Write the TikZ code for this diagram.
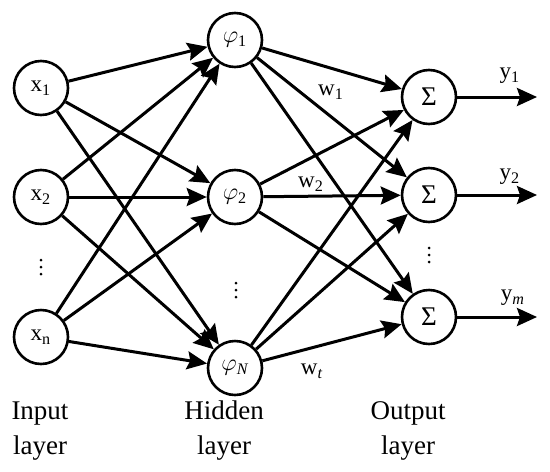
\documentclass[tikz,border=0pt]{standalone}
\usepackage{fontspec}
\setmainfont{Liberation Serif}
\usepackage{tikz}
\usetikzlibrary{arrows.meta, positioning}

\tikzset{
  neuron/.style={circle, draw, line width=1.3pt, minimum size=27pt, inner sep=0pt, font=\fontsize{11.5}{13}\selectfont},
  link/.style={line width=1.5pt, -{Stealth[length=10pt, width=9pt, inset=1.5pt]}},
  wlabel/.style={font=\fontsize{11.5}{13}\selectfont},
  layername/.style={font=\fontsize{13.5}{17.5}\selectfont, align=center},
  dotmark/.style={fill=black}
}

\begin{document}
\begin{tikzpicture}[x=0.5pt, y=-0.5pt]
  \useasboundingbox (0,0) rectangle (550,471);
  % input layer
  \node[neuron] (x1) at (41,88) {x\textsubscript{1}};
  \node[neuron] (x2) at (41,197) {x\textsubscript{2}};
  \node[neuron] (xn) at (41,337) {x\textsubscript{n}};
  \foreach \d in {260,267,274} \fill[dotmark] (41,\d) circle (1.5);
  % hidden layer
  \node[neuron] (h1) at (235,40) {$\varphi$\textsubscript{1}};
  \node[neuron] (h2) at (235,197) {$\varphi$\textsubscript{2}};
  \node[neuron] (hN) at (235,368) {$\varphi$\textsubscript{\itshape N}};
  \foreach \d in {283,290,297} \fill[dotmark] (236,\d) circle (1.5);
  % output layer
  \node[neuron, font=\fontsize{13.5}{15}\selectfont] (o1) at (429,97) {Σ};
  \node[neuron, font=\fontsize{13.5}{15}\selectfont] (o2) at (429,195) {Σ};
  \node[neuron, font=\fontsize{13.5}{15}\selectfont] (om) at (429,317) {Σ};
  \foreach \d in {248,255,262} \fill[dotmark] (429,\d) circle (1.5);
  % input to hidden
  \foreach \i in {x1,x2,xn} {
    \foreach \j in {h1,h2,hN} {
      \draw[link] (\i) -- (\j);
    }
  }
  % hidden to output
  \foreach \i in {h1,h2,hN} {
    \foreach \j in {o1,o2,om} {
      \draw[link] (\i) -- (\j);
    }
  }
  % outputs
  \coordinate (y1end) at (537,97);
  \coordinate (y2end) at (537,195);
  \coordinate (ymend) at (537,317);
  \draw[link] (o1) -- (y1end);
  \draw[link] (o2) -- (y2end);
  \draw[link] (om) -- (ymend);
  \node[wlabel] (y1) at (510,76) {y\textsubscript{1}};
  \node[wlabel] (y2) at (510,177) {y\textsubscript{2}};
  \node[wlabel] (ym) at (513,298) {y\textsubscript{\itshape m}};
  % weights
  \node[wlabel] (w1) at (331,92) {w\textsubscript{1}};
  \node[wlabel] (w2) at (311,184) {w\textsubscript{2}};
  \node[wlabel] (wt) at (312,371) {w\textsubscript{\itshape t}};
  % layer names
  \node[layername] (inname) at (40,431) {Input\\layer};
  \node[layername] (hidname) at (224,431) {Hidden\\layer};
  \node[layername] (outname) at (408,431) {Output\\layer};
\end{tikzpicture}
\end{document}
